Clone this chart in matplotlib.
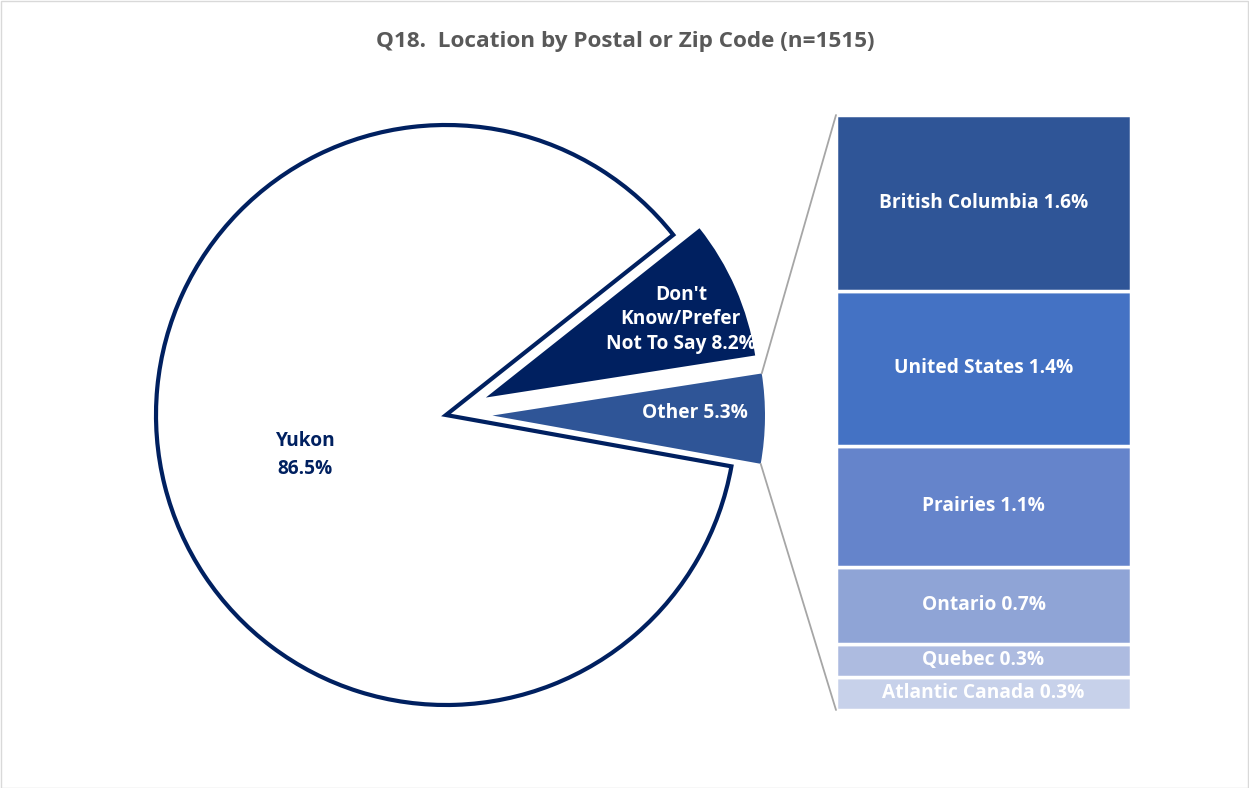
import matplotlib
matplotlib.use("Agg")
import matplotlib.pyplot as plt
from matplotlib.patches import ConnectionPatch, Rectangle
import numpy as np

# main pie
pie_labels = ["Other", "Don't\nKnow/Prefer\nNot To Say", "Yukon"]
pie_values = [5.3, 8.2, 86.5]
pie_colors = ["#2F5597", "#002060", "#FFFFFF"]

# breakdown of "Other"
bar_labels = ["Atlantic Canada", "Quebec", "Ontario", "Prairies", "United States", "British Columbia"]
bar_values = [0.3, 0.3, 0.7, 1.1, 1.4, 1.6]
bar_colors = ["#C7D1EA", "#ADBBE0", "#8FA4D6", "#6584CB", "#4472C4", "#2F5597"]

W, H = 1249, 788
fig = plt.figure(figsize=(W / 100, H / 100), dpi=100)
plt.rcParams['font.family'] = ['Open Sans', 'DejaVu Sans']

# pie axes: 290 px per unit, centre at (446, 415) px
px = 290.0
cx, cy = 446, 415
l, r, t, b = 100, 800, 80, 760
ax = fig.add_axes([l / W, (H - b) / H, (r - l) / W, (b - t) / H])
ax.axis('off')

wedges, _ = ax.pie(pie_values, colors=pie_colors, startangle=-10.2,
                   explode=[0.16, 0.15, 0.0], radius=1.0, counterclock=True,
                   normalize=True, frame=False)
ax.set_xlim((l - cx) / px, (r - cx) / px)
ax.set_ylim((cy - b) / px, (cy - t) / px)
ax.set_aspect('auto')
wedges[2].set_edgecolor("#002060")
wedges[2].set_linewidth(3)
for w in wedges[:2]:
    w.set_radius(0.94)
    w.set_edgecolor("none")

txt = dict(fontweight='bold', ha='center', va='center', fontsize=13.8)
ax.text(-0.486, -0.138, "Yukon\n86.5%", color="#002060", linespacing=1.5, **txt)
ax.text(0.81, 0.33, "%s %.1f%%" % (pie_labels[1], pie_values[1]), color="white", linespacing=1.3, **txt)
ax.text(0.86, 0.007, "%s %.1f%%" % (pie_labels[0], pie_values[0]), color="white", **txt)

# stacked bar
bl, br, bt, bb = 836, 1131, 115, 710
bax = fig.add_axes([bl / W, (H - bb) / H, (br - bl) / W, (bb - bt) / H])
bottom = 0
for lab, v, c in zip(bar_labels, bar_values, bar_colors):
    bax.bar(0, v, bottom=bottom, width=1, color=c, edgecolor='white', linewidth=2.5)
    bax.text(0, bottom + v / 2, "%s %.1f%%" % (lab, v), color='white', **txt)
    bottom += v
bax.set_xlim(-0.5, 0.5)
bax.set_ylim(0, sum(bar_values))
bax.axis('off')

# connector lines from the "Other" wedge to the bar
o = wedges[0]
ocx, ocy = o.center
for ang, yb in [(o.theta2, sum(bar_values)), (o.theta1, 0)]:
    p = (ocx + o.r * np.cos(np.radians(ang)), ocy + o.r * np.sin(np.radians(ang)))
    con = ConnectionPatch(xyA=p, coordsA=ax.transData, xyB=(-0.5, yb), coordsB=bax.transData,
                          color="#A6A6A6", linewidth=1.3)
    fig.add_artist(con)

fig.text(625 / W, 1 - 42 / H, "Q18.  Location by Postal or Zip Code (n=1515)",
         ha='center', va='center', fontsize=16.2, fontweight='bold', color="#595959")

fig.add_artist(Rectangle((0.5 / W, 0.5 / H), 1 - 1.5 / W, 1 - 1.5 / H, transform=fig.transFigure,
                         fill=False, edgecolor="#D9D9D9", linewidth=1))

fig.savefig("out.png", dpi=100)
